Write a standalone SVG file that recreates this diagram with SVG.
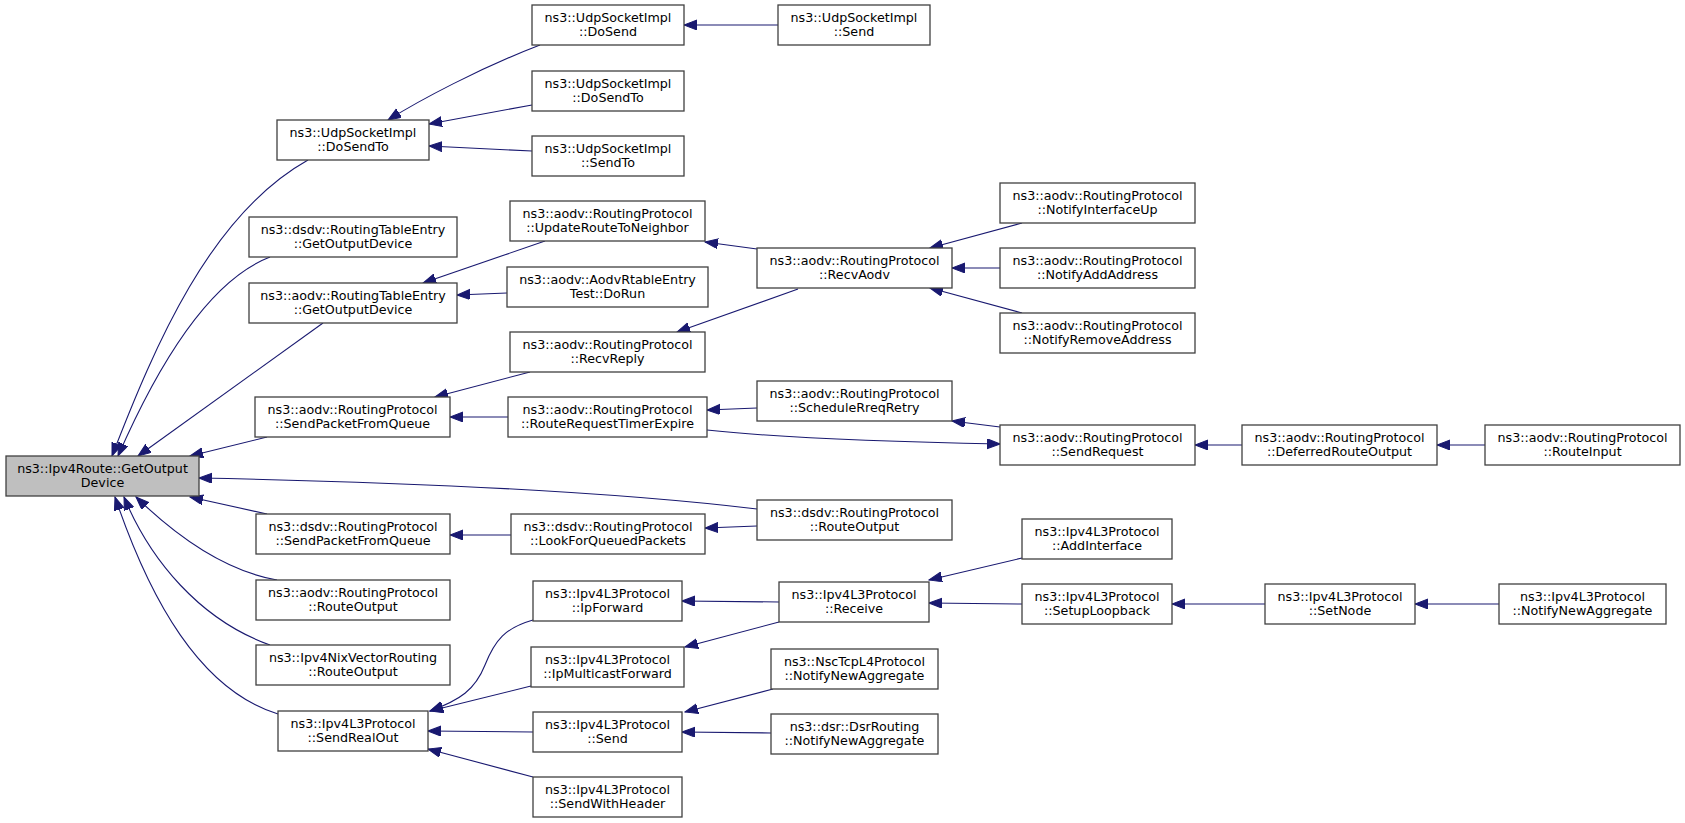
<svg xmlns="http://www.w3.org/2000/svg" width="1685" height="823" viewBox="0 0 1685 823">
<style>
.n rect{fill:#ffffff;stroke:#404040;stroke-width:1.3}
.n.root rect{fill:#bfbfbf}
.n text{font-family:"DejaVu Sans",sans-serif;font-size:12.7px;fill:#000;text-anchor:middle}
.e path{fill:none;stroke:#191970;stroke-width:1.1;marker-start:url(#ah)}
</style>
<defs>
<marker id="ah" markerUnits="userSpaceOnUse" markerWidth="14" markerHeight="11" refX="13" refY="5" orient="auto-start-reverse">
<path d="M0,0 L13,5 L0,10 z" fill="#191970" stroke="#191970" stroke-width="1"/>
</marker>
</defs>
<rect x="0" y="0" width="1685" height="823" fill="#ffffff"/>
<g id="edges" class="e">
<path d="M112,456 C155,345 210,215 308,160"/>
<path d="M118,456 C160,360 210,280 270,257"/>
<path d="M138,456 L323,323"/>
<path d="M190,456 L267,437"/>
<path d="M199,478 C400,482 600,490 757,509"/>
<path d="M190,497 L267,514"/>
<path d="M136,497 C170,530 220,570 277,580"/>
<path d="M124,497 C150,560 200,620 270,645"/>
<path d="M115,497 C150,600 200,690 278,714"/>
<path d="M388,120 C420,100 480,68 540,45"/>
<path d="M429,124 L532,105"/>
<path d="M429,146 L532,151"/>
<path d="M684,25 L778,25"/>
<path d="M423,283 L545,241"/>
<path d="M457,295 L507,293"/>
<path d="M705,242 L757,249"/>
<path d="M677,332 L798,289"/>
<path d="M435,397 L530,372"/>
<path d="M450,417 L508,417"/>
<path d="M707,410 L757,408"/>
<path d="M1000,444 C900,442 780,438 707,430"/>
<path d="M952,421 L1000,427"/>
<path d="M1195,445 L1242,445"/>
<path d="M1437,445 L1485,445"/>
<path d="M450,535 L511,535"/>
<path d="M705,528 L757,526"/>
<path d="M930,248 L1022,223"/>
<path d="M952,268 L1000,268"/>
<path d="M930,288 L1022,313"/>
<path d="M430,711 C460,700 475,690 485,665 C495,640 505,628 533,620"/>
<path d="M430,711 L531,686"/>
<path d="M428,731 L533,732"/>
<path d="M428,749 L533,777"/>
<path d="M682,601 L779,602"/>
<path d="M685,647 L779,622"/>
<path d="M685,712 L773,689"/>
<path d="M682,732 L771,733"/>
<path d="M929,580 L1022,558"/>
<path d="M929,603 L1022,604"/>
<path d="M1172,604 L1265,604"/>
<path d="M1415,604 L1499,604"/>
</g>
<g id="root" class="n root"><rect x="6" y="456" width="193" height="40"/><text x="102.5" y="473">ns3::Ipv4Route::GetOutput</text><text x="102.5" y="487">Device</text></g>
<g id="udp_dosendto" class="n"><rect x="277" y="120" width="152" height="40"/><text x="353" y="137">ns3::UdpSocketImpl</text><text x="353" y="151">::DoSendTo</text></g>
<g id="dsdv_rte" class="n"><rect x="249" y="217" width="208" height="40"/><text x="353" y="234">ns3::dsdv::RoutingTableEntry</text><text x="353" y="248">::GetOutputDevice</text></g>
<g id="aodv_rte" class="n"><rect x="249" y="283" width="208" height="40"/><text x="353" y="300">ns3::aodv::RoutingTableEntry</text><text x="353" y="314">::GetOutputDevice</text></g>
<g id="aodv_spfq" class="n"><rect x="255" y="397" width="195" height="40"/><text x="352.5" y="414">ns3::aodv::RoutingProtocol</text><text x="352.5" y="428">::SendPacketFromQueue</text></g>
<g id="dsdv_spfq" class="n"><rect x="256" y="514" width="194" height="40"/><text x="353" y="531">ns3::dsdv::RoutingProtocol</text><text x="353" y="545">::SendPacketFromQueue</text></g>
<g id="aodv_ro" class="n"><rect x="256" y="580" width="194" height="40"/><text x="353" y="597">ns3::aodv::RoutingProtocol</text><text x="353" y="611">::RouteOutput</text></g>
<g id="nix_ro" class="n"><rect x="256" y="645" width="194" height="40"/><text x="353" y="662">ns3::Ipv4NixVectorRouting</text><text x="353" y="676">::RouteOutput</text></g>
<g id="sendrealout" class="n"><rect x="278" y="711" width="150" height="40"/><text x="353" y="728">ns3::Ipv4L3Protocol</text><text x="353" y="742">::SendRealOut</text></g>
<g id="dosend" class="n"><rect x="532" y="5" width="152" height="40"/><text x="608" y="22">ns3::UdpSocketImpl</text><text x="608" y="36">::DoSend</text></g>
<g id="dosendto2" class="n"><rect x="532" y="71" width="152" height="40"/><text x="608" y="88">ns3::UdpSocketImpl</text><text x="608" y="102">::DoSendTo</text></g>
<g id="sendto" class="n"><rect x="532" y="136" width="152" height="40"/><text x="608" y="153">ns3::UdpSocketImpl</text><text x="608" y="167">::SendTo</text></g>
<g id="urtn" class="n"><rect x="510" y="201" width="195" height="40"/><text x="607.5" y="218">ns3::aodv::RoutingProtocol</text><text x="607.5" y="232">::UpdateRouteToNeighbor</text></g>
<g id="rtdorun" class="n"><rect x="507" y="267" width="201" height="40"/><text x="607.5" y="284">ns3::aodv::AodvRtableEntry</text><text x="607.5" y="298">Test::DoRun</text></g>
<g id="recvreply" class="n"><rect x="510" y="332" width="195" height="40"/><text x="607.5" y="349">ns3::aodv::RoutingProtocol</text><text x="607.5" y="363">::RecvReply</text></g>
<g id="rrte" class="n"><rect x="508" y="397" width="199" height="40"/><text x="607.5" y="414">ns3::aodv::RoutingProtocol</text><text x="607.5" y="428">::RouteRequestTimerExpire</text></g>
<g id="lfqp" class="n"><rect x="511" y="514" width="194" height="40"/><text x="608" y="531">ns3::dsdv::RoutingProtocol</text><text x="608" y="545">::LookForQueuedPackets</text></g>
<g id="ipforward" class="n"><rect x="533" y="581" width="149" height="40"/><text x="607.5" y="598">ns3::Ipv4L3Protocol</text><text x="607.5" y="612">::IpForward</text></g>
<g id="ipmf" class="n"><rect x="531" y="647" width="153" height="40"/><text x="607.5" y="664">ns3::Ipv4L3Protocol</text><text x="607.5" y="678">::IpMulticastForward</text></g>
<g id="send" class="n"><rect x="533" y="712" width="149" height="40"/><text x="607.5" y="729">ns3::Ipv4L3Protocol</text><text x="607.5" y="743">::Send</text></g>
<g id="swh" class="n"><rect x="533" y="777" width="149" height="40"/><text x="607.5" y="794">ns3::Ipv4L3Protocol</text><text x="607.5" y="808">::SendWithHeader</text></g>
<g id="udpsend" class="n"><rect x="778" y="5" width="152" height="40"/><text x="854" y="22">ns3::UdpSocketImpl</text><text x="854" y="36">::Send</text></g>
<g id="recvaodv" class="n"><rect x="757" y="248" width="195" height="40"/><text x="854.5" y="265">ns3::aodv::RoutingProtocol</text><text x="854.5" y="279">::RecvAodv</text></g>
<g id="srr" class="n"><rect x="757" y="381" width="195" height="40"/><text x="854.5" y="398">ns3::aodv::RoutingProtocol</text><text x="854.5" y="412">::ScheduleRreqRetry</text></g>
<g id="dsdv_ro" class="n"><rect x="757" y="500" width="195" height="40"/><text x="854.5" y="517">ns3::dsdv::RoutingProtocol</text><text x="854.5" y="531">::RouteOutput</text></g>
<g id="receive" class="n"><rect x="779" y="582" width="150" height="40"/><text x="854" y="599">ns3::Ipv4L3Protocol</text><text x="854" y="613">::Receive</text></g>
<g id="nsc" class="n"><rect x="771" y="649" width="167" height="40"/><text x="854.5" y="666">ns3::NscTcpL4Protocol</text><text x="854.5" y="680">::NotifyNewAggregate</text></g>
<g id="dsr" class="n"><rect x="771" y="714" width="167" height="40"/><text x="854.5" y="731">ns3::dsr::DsrRouting</text><text x="854.5" y="745">::NotifyNewAggregate</text></g>
<g id="niu" class="n"><rect x="1000" y="183" width="195" height="40"/><text x="1097.5" y="200">ns3::aodv::RoutingProtocol</text><text x="1097.5" y="214">::NotifyInterfaceUp</text></g>
<g id="naa" class="n"><rect x="1000" y="248" width="195" height="40"/><text x="1097.5" y="265">ns3::aodv::RoutingProtocol</text><text x="1097.5" y="279">::NotifyAddAddress</text></g>
<g id="nra" class="n"><rect x="1000" y="313" width="195" height="40"/><text x="1097.5" y="330">ns3::aodv::RoutingProtocol</text><text x="1097.5" y="344">::NotifyRemoveAddress</text></g>
<g id="sendreq" class="n"><rect x="1000" y="425" width="195" height="40"/><text x="1097.5" y="442">ns3::aodv::RoutingProtocol</text><text x="1097.5" y="456">::SendRequest</text></g>
<g id="addif" class="n"><rect x="1022" y="519" width="150" height="40"/><text x="1097" y="536">ns3::Ipv4L3Protocol</text><text x="1097" y="550">::AddInterface</text></g>
<g id="setuplb" class="n"><rect x="1022" y="584" width="150" height="40"/><text x="1097" y="601">ns3::Ipv4L3Protocol</text><text x="1097" y="615">::SetupLoopback</text></g>
<g id="dro" class="n"><rect x="1242" y="425" width="195" height="40"/><text x="1339.5" y="442">ns3::aodv::RoutingProtocol</text><text x="1339.5" y="456">::DeferredRouteOutput</text></g>
<g id="setnode" class="n"><rect x="1265" y="584" width="150" height="40"/><text x="1340" y="601">ns3::Ipv4L3Protocol</text><text x="1340" y="615">::SetNode</text></g>
<g id="routeinput" class="n"><rect x="1485" y="425" width="195" height="40"/><text x="1582.5" y="442">ns3::aodv::RoutingProtocol</text><text x="1582.5" y="456">::RouteInput</text></g>
<g id="nna" class="n"><rect x="1499" y="584" width="167" height="40"/><text x="1582.5" y="601">ns3::Ipv4L3Protocol</text><text x="1582.5" y="615">::NotifyNewAggregate</text></g>
</svg>
